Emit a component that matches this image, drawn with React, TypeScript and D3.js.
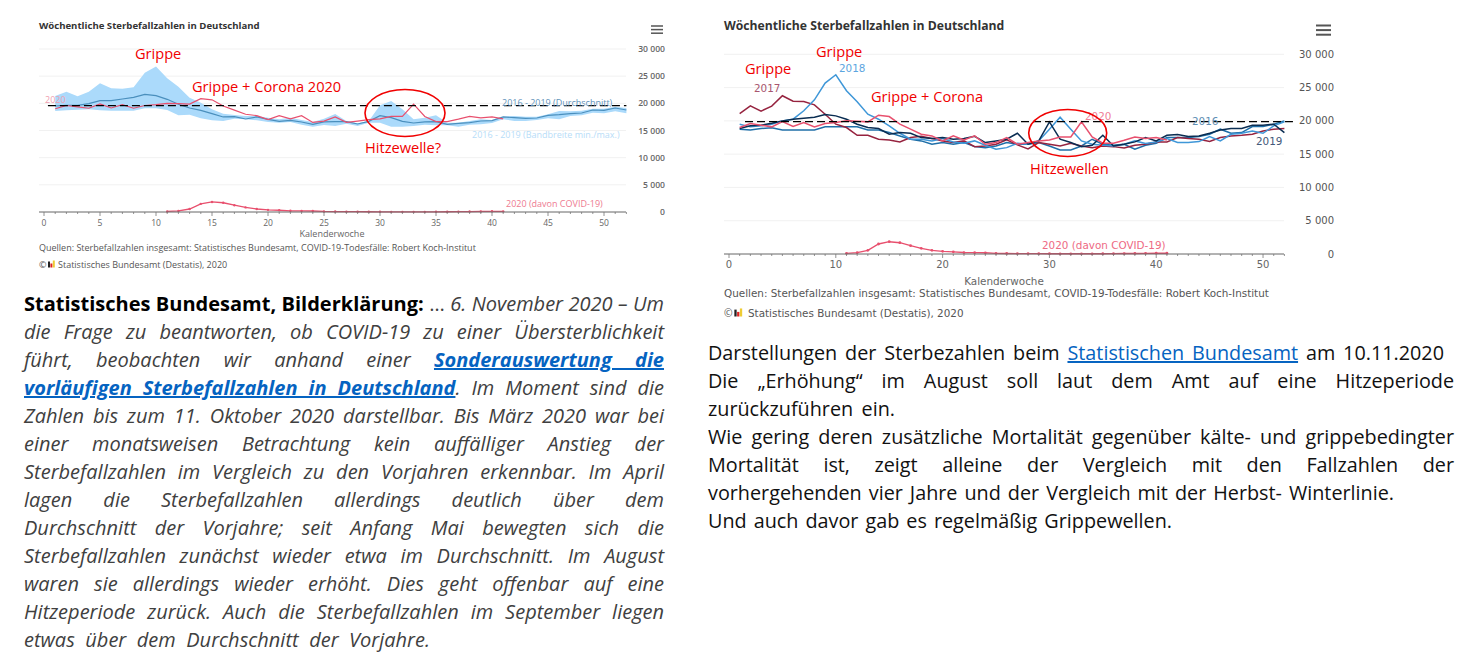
import React, { useLayoutEffect, useRef } from 'react';
import * as d3 from 'd3';

const covidWeeks = d3.range(11, 42);
const yTicks = [0, 5000, 10000, 15000, 20000, 25000, 30000];

const deaths2016 = [18750,18640,18850,18950,18640,18640,18640,18640,19100,19100,19100,19100,18640,18640,18240,17740,17240,16990,16490,16740,16490,16740,16130,15980,16230,16740,16490,16490,16740,16230,15630,15630,16230,17240,16490,16340,16490,15730,16340,16640,17490,17490,17490,17640,17990,18750,18140,18240,19150,19150,19500,20000];
const deaths2017 = [21100,22260,21460,22210,23770,22960,22910,22410,21000,19500,19000,17840,17840,17240,17140,16840,17490,17690,17340,16990,16740,16990,16130,16230,16490,17140,16390,15780,16740,16490,16230,16640,16230,15980,16230,16130,15930,16340,16490,16840,16840,17490,17340,17240,16890,17490,17740,17840,17990,18490,18750,18850];
const deaths2018 = [19500,19100,19250,19500,20000,20250,21510,23160,25670,26930,24520,22860,21000,20250,19250,18140,17240,17240,16990,17340,16840,16640,16990,16340,15730,15980,16640,16490,16990,18750,20550,18750,16990,16490,16340,16230,16490,16990,16590,16840,17340,16740,16740,16890,17640,16990,17990,18140,18490,18140,19250,19850];
const deaths2019 = [18850,19250,19350,19650,20000,20250,20400,20550,20950,20750,20250,19500,19000,18850,17990,18240,18140,17490,17340,17490,17240,17340,17690,16740,16990,17240,18140,16490,16990,19850,17240,16740,16130,16340,17840,16230,16490,16840,17490,16990,17840,17940,17640,17740,18140,18640,18850,18850,19350,19350,19500,18240];
const deaths2020 = [19000,19600,19350,19100,19900,19150,19750,19100,19600,19750,20000,19950,19850,20850,20650,19500,18750,17990,17740,16990,17740,17140,17740,16490,16740,17490,16490,16740,16990,17140,17590,17590,19850,17590,16640,16640,17090,17590,17340,17490,17140];
const covid2020 = [100,200,550,1500,1850,1700,1250,850,550,400,320,220,200,180,100,80,60,60,50,40,30,30,30,30,40,50,70,80,100,130,120];
const average = [19510,19630,19630,19940,20490,20490,20800,21100,21650,21410,20740,19820,19140,18710,18100,17490,17550,17120,17490,17060,16690,16870,16570,16140,16570,16630,16630,16200,16690,17730,17360,16690,16380,16570,16630,16140,16320,16440,16750,16810,17490,17360,17240,17300,17790,17920,18100,18220,18770,18710,19140,18770];
const bandMax = [21350,22150,21290,22150,23680,22760,22700,22940,25640,26800,24600,23070,21040,20120,18900,18100,17850,17670,17670,17360,17060,17360,16930,16570,17180,18040,16750,16320,16750,19630,20430,18900,17060,17360,17790,16440,16440,16750,17060,16930,17550,17670,17550,17550,17980,18590,18530,18650,19020,19020,19390,19140];
const bandMin = [18590,18710,18840,18900,18710,18650,18650,18650,19080,19080,18770,17790,17920,17240,16870,16750,17180,17060,16870,16570,16440,16570,16080,15710,16020,15830,16260,15830,16440,16440,15710,15710,15830,16080,15950,15950,15710,16080,16140,16380,17060,16750,16750,16930,17240,17060,17670,17790,18280,18160,18530,18160];

const RED = '#e8506e';
const ANNOT = '#f00000';
const title = 'Wöchentliche Sterbefallzahlen in Deutschland';
const sources = 'Quellen: Sterbefallzahlen insgesamt: Statistisches Bundesamt, COVID-19-Todesfälle: Robert Koch-Institut';
const copyright = 'Statistisches Bundesamt (Destatis), 2020';

type Seg = { t: string; b?: boolean; i?: boolean; link?: boolean };
type Line = { segs: Seg[]; width?: number };

const leftText: Line[] = [
  { segs: [{ t: 'Statistisches Bundesamt, Bilderklärung:', b: true }, { t: ' … ' }, { t: '6. November 2020 – Um', i: true }], width: 640 },
  { segs: [{ t: 'die Frage zu beantworten, ob COVID-19 zu einer Übersterblichkeit', i: true }], width: 640 },
  { segs: [{ t: 'führt, beobachten wir anhand einer ', i: true }, { t: 'Sonderauswertung die', i: true, b: true, link: true }], width: 640 },
  { segs: [{ t: 'vorläufigen Sterbefallzahlen in Deutschland', i: true, b: true, link: true }, { t: '. Im Moment sind die', i: true }], width: 640 },
  { segs: [{ t: 'Zahlen bis zum 11. Oktober 2020 darstellbar. Bis März 2020 war bei', i: true }], width: 640 },
  { segs: [{ t: 'einer monatsweisen Betrachtung kein auffälliger Anstieg der', i: true }], width: 640 },
  { segs: [{ t: 'Sterbefallzahlen im Vergleich zu den Vorjahren erkennbar. Im April', i: true }], width: 640 },
  { segs: [{ t: 'lagen die Sterbefallzahlen allerdings deutlich über dem', i: true }], width: 640 },
  { segs: [{ t: 'Durchschnitt der Vorjahre; seit Anfang Mai bewegten sich die', i: true }], width: 640 },
  { segs: [{ t: 'Sterbefallzahlen zunächst wieder etwa im Durchschnitt. Im August', i: true }], width: 640 },
  { segs: [{ t: 'waren sie allerdings wieder erhöht. Dies geht offenbar auf eine', i: true }], width: 640 },
  { segs: [{ t: 'Hitzeperiode zurück. Auch die Sterbefallzahlen im September liegen', i: true }], width: 640 },
  { segs: [{ t: 'etwas über dem Durchschnitt der Vorjahre.', i: true }], width: 406 },
];

const rightText: Line[] = [
  { segs: [{ t: 'Darstellungen der Sterbezahlen beim ' }, { t: 'Statistischen Bundesamt', link: true }, { t: ' am 10.11.2020' }], width: 736 },
  { segs: [{ t: 'Die „Erhöhung“ im August soll laut dem Amt auf eine Hitzeperiode' }], width: 746 },
  { segs: [{ t: 'zurückzuführen ein.' }], width: 187 },
  { segs: [{ t: 'Wie gering deren zusätzliche Mortalität gegenüber kälte- und grippebedingter' }], width: 746 },
  { segs: [{ t: 'Mortalität ist, zeigt alleine der Vergleich mit den Fallzahlen der' }], width: 746 },
  { segs: [{ t: 'vorhergehenden vier Jahre und der Vergleich mit der Herbst- Winterlinie.' }], width: 686 },
  { segs: [{ t: 'Und auch davor gab es regelmäßig Grippewellen.' }], width: 464 },
];

const linePath = (x: d3.ScaleLinear<number, number>, y: d3.ScaleLinear<number, number>, values: number[], start = 1) =>
  d3.line<number>().x((_, i) => x(i + start)).y(d => y(d))(values) ?? '';

const Paragraph = ({ lines, x, y, color, size }: { lines: Line[]; x: number; y: number; color: string; size: number }) => (
  <g fontFamily="'Open Sans'" fontSize={size} fill={color}>
    {lines.map((line, i) => (
      <text key={i} className="fit" data-w={line.width} x={x} y={y + i * 28} xmlSpace="preserve">
        {line.segs.map((s, j) => (
          <tspan key={j} fontWeight={s.b ? 700 : 400} fontStyle={s.i ? 'italic' : 'normal'}
            fill={s.link ? '#0563c1' : s.b ? '#000' : undefined}
            textDecoration={s.link ? 'underline' : undefined}>{s.t}</tspan>
        ))}
      </text>
    ))}
  </g>
);

const Menu = ({ x, y, w, gap, sw }: { x: number; y: number; w: number; gap: number; sw: number }) => (
  <g stroke="#555" strokeWidth={sw}>
    {[0, 1, 2].map(i => <line key={i} x1={x} x2={x + w} y1={y + i * gap} y2={y + i * gap} />)}
  </g>
);

const Logo = ({ x, y, s }: { x: number; y: number; s: number }) => (
  <g>
    <text x={x} y={y} fontSize={9 * s} fill="#555" fontFamily="'Open Sans'">©</text>
    <rect x={x + 9 * s} y={y - 6 * s} width={2 * s} height={6 * s} fill="#222" />
    <rect x={x + 11.4 * s} y={y - 4 * s} width={2 * s} height={4 * s} fill="#d22" />
    <rect x={x + 13.8 * s} y={y - 7 * s} width={2 * s} height={7 * s} fill="#ec3" />
  </g>
);

const Axis = ({ x, y0, every, left, right, fontSize, font }: { x: d3.ScaleLinear<number, number>; y0: number; every: number; left: number; right: number; fontSize: number; font: string }) => (
  <g>
    <line x1={left} x2={right} y1={y0} y2={y0} stroke="#666" strokeWidth={1} />
    {d3.range(0, 53).map(w => (
      <line key={w} x1={x(w)} x2={x(w)} y1={y0} y2={y0 + (w % every === 0 ? 4 : 2)} stroke="#777" strokeWidth={0.8} />
    ))}
    {d3.range(0, 51, every).map(w => (
      <text key={w} x={x(w)} y={y0 + 13.5} textAnchor="middle" fontSize={fontSize} fontFamily={font} fill="#666">{w}</text>
    ))}
  </g>
);

const LeftChart = () => {
  const x = d3.scaleLinear().domain([0, 52]).range([44, 626.4]);
  const y = d3.scaleLinear().domain([0, 30000]).range([212, 49]);
  const band = d3.area<number>().x((_, i) => x(i + 1)).y0((_, i) => y(bandMin[i])).y1(d => y(d))(bandMax) ?? '';
  const font = "'Open Sans'";
  return (
    <g>
      {yTicks.map(t => (
        <g key={t}>
          {t > 0 && <line x1={39} x2={626} y1={y(t)} y2={y(t)} stroke="#f1f1f1" />}
          <text x={665} y={y(t) + 3} textAnchor="end" fontSize={8.6} fontWeight={600} fontFamily={font} fill="#666">
            {d3.format(',')(t).replace(',', ' ')}
          </text>
        </g>
      ))}
      <text x={39} y={29} fontSize={9.6} fontWeight={700} fontFamily={font} fill="#333">{title}</text>
      <Menu x={651} y={26} w={12} gap={3.6} sw={1.5} />
      <path d={band} fill="#abdafb" />
      <path d={linePath(x, y, average)} fill="none" stroke="#4a8fbd" strokeWidth={1.2} />
      <path d={linePath(x, y, deaths2020)} fill="none" stroke={RED} strokeWidth={1.2} />
      <path d={linePath(x, y, covid2020, 11)} fill="none" stroke={RED} strokeWidth={1.3} />
      {covid2020.map((v, i) => <circle key={i} cx={x(covidWeeks[i])} cy={y(v)} r={1.2} fill={RED} />)}
      <line x1={x(0.35)} x2={x(52)} y1={y(19570)} y2={y(19570)} stroke="#000" strokeWidth={1.2} strokeDasharray="8 4" />
      <Axis x={x} y0={212} every={5} left={39} right={626} fontSize={8.5} font={font} />
      <g fontFamily={font} fontSize={9}>
        <text x={45} y={103} fill="#f0a0b0">2020</text>
        <text x={502} y={106} fill="#5f93bb">2016 - 2019 (Durchschnitt)</text>
        <text x={472} y={138} fill="#b7ddf8">2016 - 2019 (Bandbreite min./max.)</text>
        <text x={506} y={207} fill="#ee7a90">2020 (davon COVID-19)</text>
        <text x={332} y={237} textAnchor="middle" fill="#666">Kalenderwoche</text>
        <text x={39} y={250.5} fill="#555">{sources}</text>
        <text x={58} y={267.5} fill="#555">{copyright}</text>
      </g>
      <Logo x={39} y={267.5} s={1} />
      <g fontFamily="'Open Sans'" fontSize={14.6} fill={ANNOT}>
        <text x={135} y={59}>Grippe</text>
        <text x={192} y={92}>Grippe + Corona 2020</text>
        <text x={365} y={153}>Hitzewelle?</text>
      </g>
      <ellipse cx={405} cy={113} rx={40} ry={23.5} fill="none" stroke={ANNOT} strokeWidth={1.6} />
    </g>
  );
};

const RightChart = () => {
  const x = d3.scaleLinear().domain([0, 52]).range([729, 1284.4]);
  const y = d3.scaleLinear().domain([0, 30000]).range([254, 54.3]);
  const font = "'DejaVu Sans'";
  const series = [
    { values: deaths2016, color: '#1f6fa8' },
    { values: deaths2017, color: '#96233f' },
    { values: deaths2018, color: '#3f97d8' },
    { values: deaths2019, color: '#0a2d52' },
    { values: deaths2020, color: RED },
  ];
  return (
    <g>
      {yTicks.map(t => (
        <g key={t}>
          {t > 0 && <line x1={724} x2={1284} y1={y(t)} y2={y(t)} stroke="#f1f1f1" />}
          <text x={1334} y={y(t) + 3.5} textAnchor="end" fontSize={10} fontFamily={font} fill="#555">
            {d3.format(',')(t).replace(',', ' ')}
          </text>
        </g>
      ))}
      <text x={724} y={29.5} fontSize={12.2} fontWeight={700} fontFamily="'Open Sans'" fill="#333">{title}</text>
      <Menu x={1316} y={25.5} w={15} gap={4.6} sw={2} />
      {series.map(s => <path key={s.color} d={linePath(x, y, s.values)} fill="none" stroke={s.color} strokeWidth={1.5} />)}
      <path d={linePath(x, y, covid2020, 11)} fill="none" stroke={RED} strokeWidth={1.4} />
      {covid2020.map((v, i) => <circle key={i} cx={x(covidWeeks[i])} cy={y(v)} r={1.4} fill={RED} />)}
      <line x1={x(1.5)} x2={x(52.8)} y1={y(19900)} y2={y(19900)} stroke="#000" strokeWidth={1.2} strokeDasharray="8 4" />
      <Axis x={x} y0={254} every={10} left={724} right={1284} fontSize={10} font={font} />
      <g fontFamily={font} fontSize={10.4}>
        <text x={754} y={92} fill="#a8566f">2017</text>
        <text x={839} y={72} fill="#5ca5e0">2018</text>
        <text x={1085} y={120} fill="#f08098">2020</text>
        <text x={1192} y={125} fill="#5f8fb5">2016</text>
        <text x={1256} y={145} fill="#44597a">2019</text>
        <text x={1042} y={249} fill="#ee6a84">2020 (davon COVID-19)</text>
        <text x={1004} y={285} textAnchor="middle" fill="#666">Kalenderwoche</text>
        <text x={724} y={296.5} fill="#555">{sources}</text>
        <text x={748} y={316.5} fill="#555">{copyright}</text>
      </g>
      <Logo x={724} y={316.5} s={1.15} />
      <g fontFamily="'Open Sans'" fontSize={14.6} fill={ANNOT}>
        <text x={745} y={74}>Grippe</text>
        <text x={816} y={57}>Grippe</text>
        <text x={871} y={102}>Grippe + Corona</text>
        <text x={1030} y={174}>Hitzewellen</text>
      </g>
      <ellipse cx={1067.7} cy={133} rx={39} ry={23.5} fill="none" stroke={ANNOT} strokeWidth={1.6} />
    </g>
  );
};

const App: React.FC = () => {
  const svgRef = useRef<SVGSVGElement | null>(null);

  // stretch the word gaps so every line ends where it does in the document
  useLayoutEffect(() => {
    if (!svgRef.current) return;
    d3.select(svgRef.current).selectAll<SVGTextElement, unknown>('text.fit').each(function () {
      const target = Number(this.getAttribute('data-w'));
      const gaps = (this.textContent ?? '').split(' ').length - 1;
      if (!target || !gaps) return;
      const natural = this.getComputedTextLength();
      this.style.wordSpacing = `${(target - natural) / gaps}px`;
    });
  }, []);

  return (
    <svg ref={svgRef} width={1478} height={666} style={{ position: 'absolute', left: 0, top: 0, background: '#fff' }}>
      <LeftChart />
      <RightChart />
      <Paragraph lines={leftText} x={24} y={311} color="#404040" size={20} />
      <Paragraph lines={rightText} x={708} y={360} color="#111" size={19.8} />
    </svg>
  );
};

export default App;
